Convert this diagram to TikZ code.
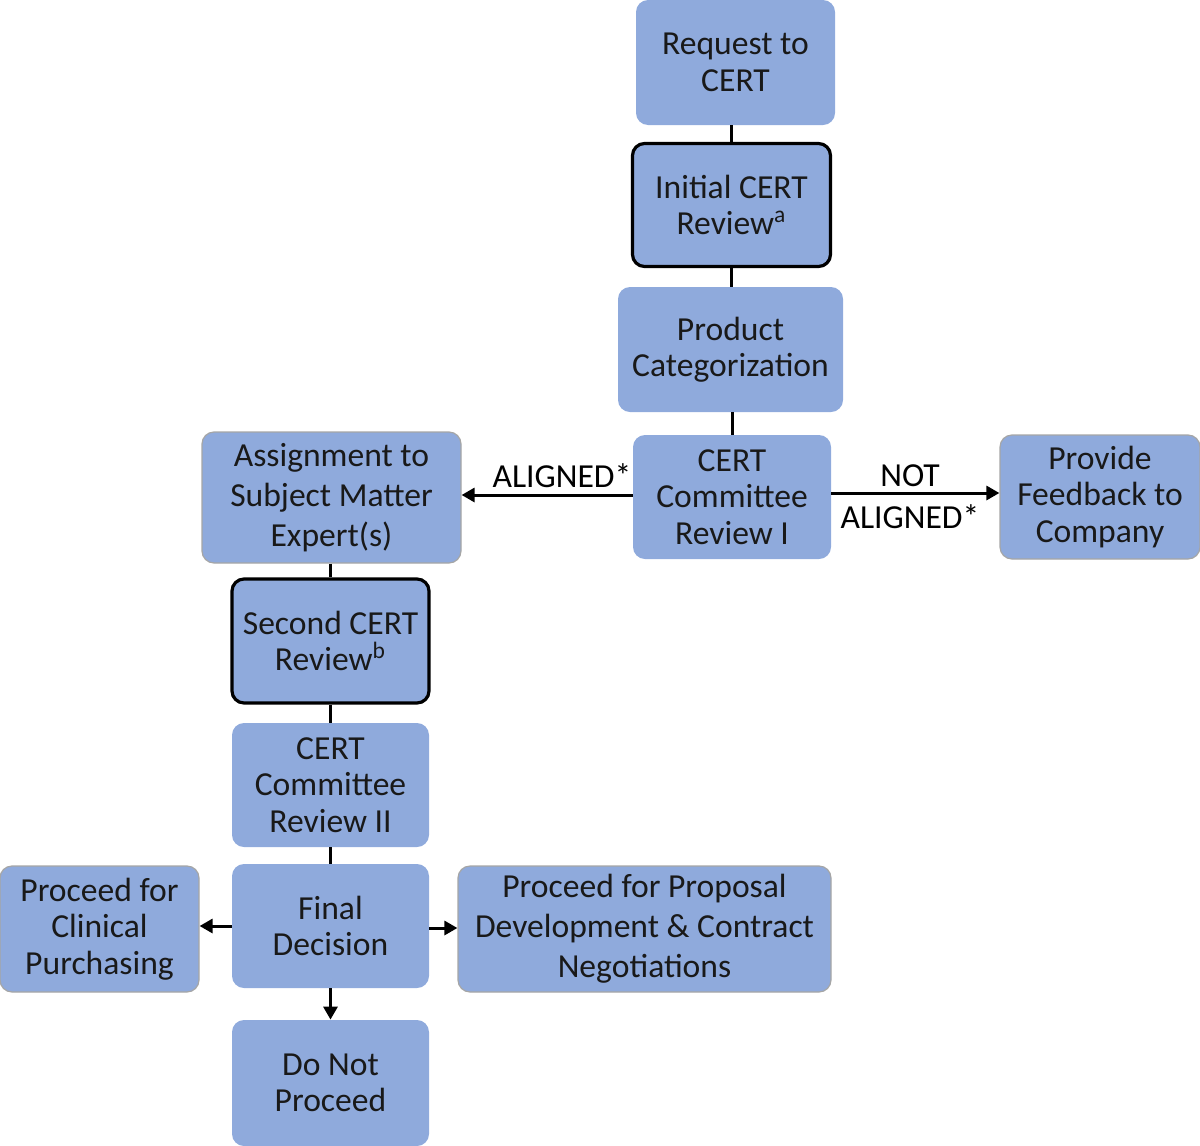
\documentclass[tikz,border=0pt]{standalone}
\usepackage{fontspec}
\setmainfont{Carlito}
\usetikzlibrary{arrows.meta}
\definecolor{boxfill}{HTML}{8FAADC}
\definecolor{boxedge}{HTML}{A6A6A6}
\begin{document}
\begin{tikzpicture}[x=0.5pt,y=-0.5pt,
  box/.style={fill=boxfill, rounded corners=6pt, align=center, inner sep=0pt,
    font=\fontsize{16.8}{18.2}\selectfont, text=black!90},
  wide/.style={font=\fontsize{16.8}{20}\selectfont},
  edged/.style={box, draw=boxedge, line width=0.6pt},
  heavy/.style={box, draw=black, line width=1.6pt},
  link/.style={line width=1.5pt},
  arr/.style={link, -{Triangle[length=6.5pt,width=7pt]}},
  lbl/.style={font=\fontsize{16.8}{18.2}\selectfont, align=center, inner sep=0pt}]
\useasboundingbox (0,0) rectangle (1200,1146);
\node[box, minimum width=99.5pt, minimum height=62.5pt] (req) at (735.5,62.5) {Request to\\CERT};
\node[heavy, minimum width=99pt, minimum height=61.5pt] (init) at (731.5,205) {Initial CERT\\Review\textsuperscript{a}};
\node[box, minimum width=112.5pt, minimum height=62.5pt] (prod) at (730.5,349.5) {Product\\Categorization};
\node[box, minimum width=99pt, minimum height=62pt] (c1) at (732,497) {CERT\\Committee\\Review I};
\node[edged, minimum width=100pt, minimum height=62pt] (fb) at (1100,497) {Provide\\Feedback to\\Company};
\node[edged, wide, minimum width=129.5pt, minimum height=65.5pt] (sme) at (331.5,497.5) {Assignment to\\Subject Matter\\Expert(s)};
\node[heavy, minimum width=98.5pt, minimum height=62pt] (sec) at (330.5,641) {Second CERT\\Review\textsuperscript{b}};
\node[box, minimum width=98.5pt, minimum height=62pt] (c2) at (330.5,785) {CERT\\Committee\\Review II};
\node[box, minimum width=98.5pt, minimum height=62pt] (fin) at (330.5,926) {Final\\Decision};
\node[edged, minimum width=99.5pt, minimum height=63pt] (clin) at (99.5,929) {Proceed for\\Clinical\\Purchasing};
\node[edged, wide, minimum width=186.5pt, minimum height=63pt] (prop) at (644.5,929) {Proceed for Proposal\\Development \& Contract\\Negotiations};
\node[box, minimum width=98.5pt, minimum height=63pt] (dnp) at (330.5,1083) {Do Not\\Proceed};
\draw[link] (req.south -| init.north) -- (init.north);
\draw[link] (init.south) -- (init.south |- prod.north);
\draw[link] (prod.south -| c1.north) -- (c1.north);
\draw[arr] (c1.west |- 0,495) -- (sme.east |- 0,495);
\draw[arr] (c1.east |- 0,493) -- (fb.west |- 0,493);
\node[lbl] (al) at (562,476) {ALIGNED*};
\node[lbl] (nal) at (910,497) {NOT\\[3pt]ALIGNED*};
\draw[link] (sme.south -| sec.north) -- (sec.north);
\draw[link] (sec.south) -- (c2.north);
\draw[link] (c2.south) -- (fin.north);
\draw[arr] (fin.west) -- (clin.east |- fin.west);
\draw[arr] (fin.east |- 0,928) -- (prop.west |- 0,928);
\draw[arr] (fin.south) -- (dnp.north);
\end{tikzpicture}
\end{document}
